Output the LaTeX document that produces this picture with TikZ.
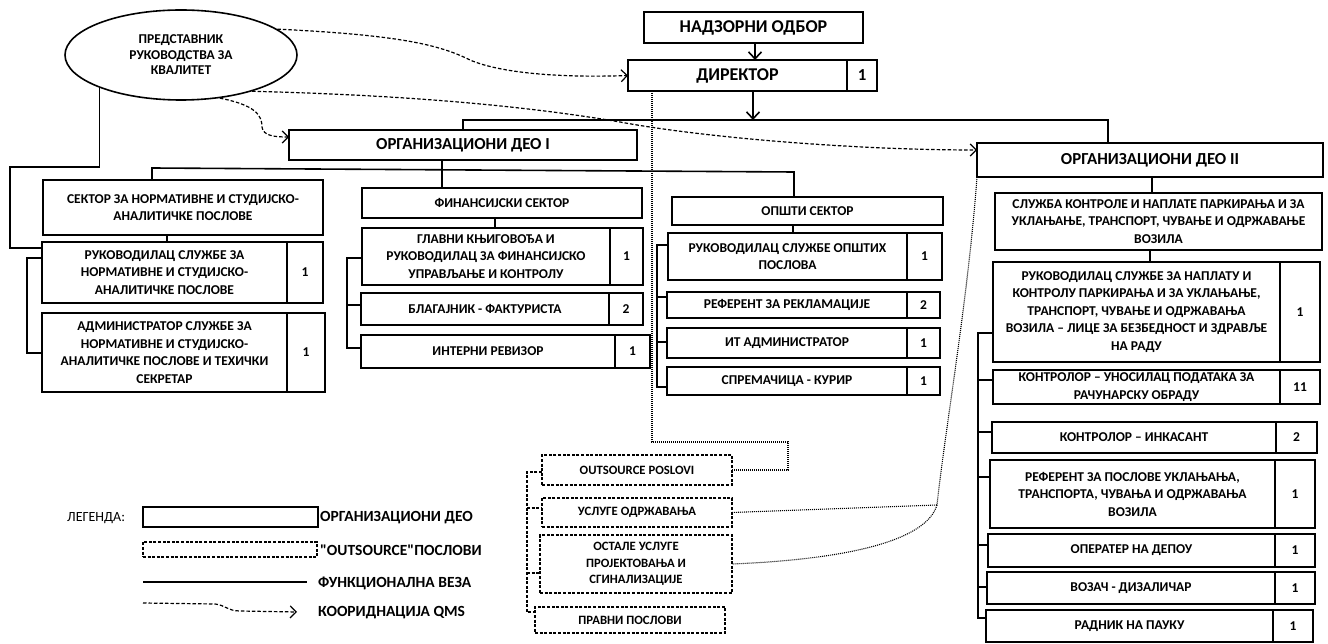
\documentclass[tikz,border=0pt]{standalone}
\usepackage{fontspec}
\setmainfont{Carlito}
\newfontfamily\qfnt{Carlito}[Ligatures=TeXOff]
\usetikzlibrary{arrows.meta,shapes.geometric}
\tikzset{
  ob/.style={draw, line width=1.7pt, anchor=north west, outer sep=0pt, inner sep=1pt, align=center, font=\bfseries\fontsize{13.5}{17.5}\selectfont},
  odash/.style={dash pattern=on 3pt off 1.6pt, line width=1.4pt},
  big/.style={font=\bfseries\fontsize{16.8}{19}\selectfont},
  huge/.style={font=\bfseries\fontsize{18}{21}\selectfont},
  small/.style={font=\bfseries\fontsize{12.7}{16.5}\selectfont},
  fl/.style={line width=1.6pt},
  arr/.style={-{Straight Barb[length=7pt,width=13pt]}},
  qms/.style={line width=1.2pt, dash pattern=on 3.5pt off 2pt, -{Straight Barb[length=6pt,width=12pt]}},
  dotl/.style={line width=1.1pt, dash pattern=on 1pt off 1pt},
  dashl/.style={line width=1.4pt, dash pattern=on 3pt off 1.6pt},
  lab/.style={anchor=west, inner sep=0pt, font=\bfseries\fontsize{15.5}{17}\selectfont},
}
\newcommand\mkbox[7][]{\node[ob,#1,minimum width={#5pt-#3pt},minimum height={#6pt-#4pt}] (#2) at (#3,#4) {#7};}
\begin{document}
\begin{tikzpicture}[x=1pt,y=-1pt]
\useasboundingbox[fill=white] (0,0) rectangle (1328,644);

% quality representative
\node[ellipse, draw, line width=1.6pt, minimum width=232pt, minimum height=90pt, inner sep=0pt, align=center, font=\bfseries\fontsize{13.5}{15.5}\selectfont] (qm) at (181,55) {ПРЕДСТАВНИК\\РУКОВОДСТВА ЗА\\КВАЛИТЕТ};

% top
\mkbox[huge]{nad}{644}{12}{863}{43}{НАДЗОРНИ ОДБОР}
\mkbox[huge]{dir}{628}{60}{847}{91}{ДИРЕКТОР}
\mkbox[big]{dirn}{847}{60}{877}{91}{1}
\mkbox[big]{d1}{289}{130}{637}{160}{ОРГАНИЗАЦИОНИ ДЕО I}
\mkbox[big]{d2}{977}{143}{1323}{177}{ОРГАНИЗАЦИОНИ ДЕО II}

% left column
\mkbox{s1}{43}{180}{323}{235}{СЕКТОР ЗА НОРМАТИВНЕ И СТУДИЈСКО-\\АНАЛИТИЧКЕ ПОСЛОВЕ}
\mkbox{s1a}{42}{242}{287}{303}{РУКОВОДИЛАЦ СЛУЖБЕ ЗА\\НОРМАТИВНЕ И СТУДИЈСКО-\\АНАЛИТИЧКЕ ПОСЛОВЕ}
\mkbox{s1an}{287}{242}{323}{303}{1}
\mkbox{s1b}{42}{313}{287}{392}{АДМИНИСТРАТОР СЛУЖБЕ ЗА\\НОРМАТИВНЕ И СТУДИЈСКО-\\АНАЛИТИЧКЕ ПОСЛОВЕ И ТЕХИЧКИ\\СЕКРЕТАР}
\mkbox{s1bn}{287}{313}{325}{392}{1}

% financial column
\mkbox{f1}{362}{188}{642}{218}{ФИНАНСИЈСКИ СЕКТОР}
\mkbox{f2}{362}{228}{610}{285}{ГЛАВНИ КЊИГОВОЂА И\\РУКОВОДИЛАЦ ЗА ФИНАНСИЈСКО\\УПРАВЉАЊЕ И КОНТРОЛУ}
\mkbox{f2n}{610}{228}{643}{285}{1}
\mkbox{f3}{361}{293}{609}{325}{БЛАГАЈНИК - ФАКТУРИСТА}
\mkbox{f3n}{609}{293}{643}{325}{2}
\mkbox{f4}{361}{335}{615}{368}{ИНТЕРНИ РЕВИЗОР}
\mkbox{f4n}{615}{335}{650}{368}{1}

% general column
\mkbox{o1}{672}{197}{943}{225}{ОПШТИ СЕКТОР}
\mkbox{o2}{668}{233}{907}{280}{РУКОВОДИЛАЦ СЛУЖБЕ ОПШТИХ\\ПОСЛОВА}
\mkbox{o2n}{907}{233}{942}{280}{1}
\mkbox{o3}{667}{292}{907}{318}{РЕФЕРЕНТ ЗА РЕКЛАМАЦИЈЕ}
\mkbox{o3n}{907}{292}{940}{318}{2}
\mkbox{o4}{667}{328}{907}{358}{ИТ АДМИНИСТРАТОР}
\mkbox{o4n}{907}{328}{940}{358}{1}
\mkbox{o5}{667}{367}{907}{395}{СПРЕМАЧИЦА - КУРИР}
\mkbox{o5n}{907}{367}{940}{395}{1}

% right column
\mkbox{r0}{995}{193}{1322}{250}{СЛУЖБА КОНТРОЛЕ И НАПЛАТЕ ПАРКИРАЊА И ЗА\\УКЛАЊАЊЕ, ТРАНСПОРТ, ЧУВАЊЕ И ОДРЖАВАЊЕ\\ВОЗИЛА}
\mkbox{r1}{993}{262}{1280}{362}{РУКОВОДИЛАЦ СЛУЖБЕ ЗА НАПЛАТУ И\\КОНТРОЛУ ПАРКИРАЊА И ЗА УКЛАЊАЊЕ,\\ТРАНСПОРТ, ЧУВАЊЕ И ОДРЖАВАЊА\\ВОЗИЛА – ЛИЦЕ ЗА БЕЗБЕДНОСТ И ЗДРАВЉЕ\\НА РАДУ}
\mkbox{r1n}{1280}{262}{1320}{362}{1}
\mkbox{r2}{993}{370}{1280}{404}{КОНТРОЛОР – УНОСИЛАЦ ПОДАТАКА ЗА\\РАЧУНАРСКУ ОБРАДУ}
\mkbox{r2n}{1280}{370}{1320}{404}{11}
\mkbox{r3}{992}{422}{1276}{453}{КОНТРОЛОР – ИНКАСАНТ}
\mkbox{r3n}{1276}{422}{1317}{453}{2}
\mkbox{r4}{990}{460}{1275}{528}{РЕФЕРЕНТ ЗА ПОСЛОВЕ УКЛАЊАЊА,\\ТРАНСПОРТА, ЧУВАЊА И ОДРЖАВАЊА\\ВОЗИЛА}
\mkbox{r4n}{1275}{460}{1315}{528}{1}
\mkbox{r5}{988}{534}{1275}{567}{ОПЕРАТЕР НА ДЕПОУ}
\mkbox{r5n}{1275}{534}{1315}{567}{1}
\mkbox{r6}{987}{572}{1275}{604}{ВОЗАЧ - ДИЗАЛИЧАР}
\mkbox{r6n}{1275}{572}{1315}{604}{1}
\mkbox{r7}{986}{610}{1273}{642}{РАДНИК НА ПАУКУ}
\mkbox{r7n}{1273}{610}{1313}{642}{1}

% outsource
\mkbox[odash,small]{u1}{542}{455}{732}{485}{OUTSOURCE POSLOVI}
\mkbox[odash,small]{u2}{542}{498}{732}{527}{УСЛУГЕ ОДРЖАВАЊА}
\mkbox[odash,small]{u3}{540}{535}{732}{593}{ОСТАЛЕ УСЛУГЕ\\ПРОЈЕКТОВАЊА И\\СГИНАЛИЗАЦИЈЕ}
\mkbox[odash,small]{u4}{535}{607}{725}{633}{ПРАВНИ ПОСЛОВИ}

% functional links
\draw[fl,arr] (nad.south -| 755,0) -- (dir.north -| 755,0);
\coordinate (bus1) at (753,120);
\draw[fl,arr] (dir.south -| bus1) -- (bus1);
\draw[fl] (d1.north) |- (1108,120) -- (d2.north -| 1108,0);
\coordinate (b2l) at (152,168);
\coordinate (b2r) at (794,172);
\draw[fl] (s1.north -| b2l) -- (b2l) -- (b2r) -- (o1.north -| b2r);
\draw[fl] (d1.south -| 442,0) -- (f1.north -| 442,0);
\draw[fl] (s1.south -| 167,0) -- (s1a.north -| 167,0);
\draw[fl] (f1.south -| 495,0) -- (f2.north -| 495,0);
\draw[fl] (o1.south -| 793,0) -- (o2.north -| 793,0);
\draw[fl] (d2.south -| 1152,0) -- (r0.north -| 1152,0);
\draw[fl] (r0.south -| 1150,0) -- (r1.north -| 1150,0);
\draw[fl] (qm.202) |- (10,167) -- (10,248) -- (s1a.west |- 0,248);

\draw[fl] (s1a.west |- 0,258) -- (27,258) -- (27,353) -- (s1b.west |- 0,353);
\draw[fl] (f2.west |- 0,258) -- (347,258) -- (347,348) -- (f4.west |- 0,348);
\draw[fl] (347,305) -- (f3.west |- 0,305);
\draw[fl] (o2.west |- 0,245) -- (657,245) -- (657,387) -- (o5.west |- 0,387);
\draw[fl] (657,297) -- (o3.west |- 0,297);
\draw[fl] (657,342) -- (o4.west |- 0,342);
\draw[fl] (r1.west |- 0,333) -- (978,333) -- (978,618) -- (r7.west |- 0,618);
\draw[fl] (978,380) -- (r2.west |- 0,380);
\draw[fl] (978,432) -- (r3.west |- 0,432);
\draw[fl] (978,477) -- (r4.west |- 0,477);
\draw[fl] (978,545) -- (r5.west |- 0,545);
\draw[fl] (978,587) -- (r6.west |- 0,587);
\draw[dashl] (u1.west |- 0,472) -- (527,472) -- (527,612) -- (u4.west |- 0,612);
\draw[dashl] (527,508) -- (u2.west |- 0,508);
\draw[dashl] (527,573) -- (u3.west |- 0,573);

% outsource links (dotted)
\draw[dotl] (dir.south west -| 652,0) -- (652,442) -- (788,442) |- (u1.east);
\coordinate (jn) at (937,505);
\draw[dotl] (d2.south west) .. controls (968,300) and (945,430) .. (jn);
\draw[dotl] (u2.east) -- (jn);
\draw[dotl] (jn) .. controls (925,545) and (830,560) .. (u3.east);

% QMS coordination
\draw[qms] (qm.15) .. controls (400,35) and (440,45) .. (470,60) .. controls (500,73) and (560,78) .. (dir.west);
\draw[qms] (qm.-27) .. controls (400,95) and (520,105) .. (620,122) .. controls (700,137) and (850,150) .. (d2.west |- 0,150);
\draw[qms] (qm.-48) .. controls (255,105) and (262,115) .. (262,127) .. controls (263,136) and (275,137) .. (d1.west |- 0,137);

% legend
\node[anchor=west, inner sep=0pt, font=\fontsize{14}{16}\selectfont] (lgt) at (67,518) {ЛЕГЕНДА:};
\mkbox{lg1}{143}{507}{318}{527}{}
\node[lab] (lg1t) at (320,518) {ОРГАНИЗАЦИОНИ ДЕО};
\mkbox[odash]{lg2}{143}{542}{317}{557}{}
\node[lab] (lg2t) at (320,550) {{\qfnt"OUTSOURCE"}ПОСЛОВИ};
\coordinate (lg3a) at (143,582);
\coordinate (lg3b) at (307,582);
\draw[fl] (lg3a) -- (lg3b);
\node[lab] (lg3t) at (318,583) {ФУНКЦИОНАЛНА ВЕЗА};
\coordinate (lg4a) at (143,603);
\coordinate (lg4b) at (297,612);
\draw[qms] (lg4a) -- (215,604) .. controls (225,605) and (228,611) .. (240,611) -- (lg4b);
\node[lab] (lg4t) at (318,613) {КООРИДНАЦИЈА QMS};
\end{tikzpicture}
\end{document}
